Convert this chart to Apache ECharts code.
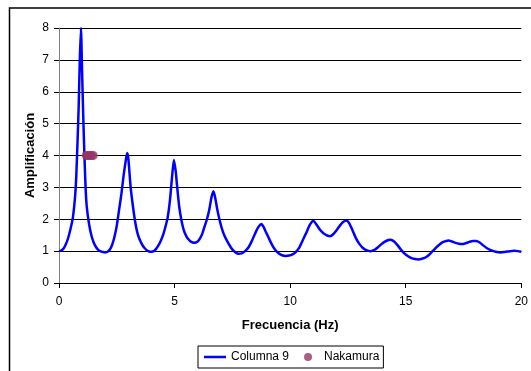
<!DOCTYPE html>
<html>
<head>
<meta charset="utf-8">
<script src="https://cdn.jsdelivr.net/npm/echarts@6/dist/echarts.min.js"></script>
<style>
  html, body { margin: 0; padding: 0; background: #fff; }
  #chart { width: 531px; height: 371px; }
</style>
</head>
<body>
<div id="chart"></div>
<script>
// Spectral ratio curve (frequency in Hz, amplification)
const freqs = [
  0.0, 0.1, 0.2, 0.3, 0.4, 0.5, 0.6, 0.7, 0.75, 0.8, 0.85, 0.9, 0.95, 1.0, 1.05,
  1.1, 1.15, 1.2, 1.3, 1.4, 1.5, 1.6, 1.7, 1.8, 1.9, 2.0, 2.1, 2.2, 2.3, 2.4,
  2.5, 2.6, 2.7, 2.8, 2.9, 2.95, 3.0, 3.1, 3.2, 3.3, 3.4, 3.5, 3.6, 3.7, 3.8,
  3.9, 4.0, 4.1, 4.2, 4.3, 4.4, 4.5, 4.6, 4.7, 4.8, 4.9, 4.97, 5.05, 5.1, 5.2,
  5.3, 5.4, 5.5, 5.6, 5.7, 5.85, 6.0, 6.1, 6.2, 6.3, 6.4, 6.5, 6.6, 6.68, 6.75,
  6.85, 6.95, 7.05, 7.15, 7.3, 7.45, 7.6, 7.75, 7.9, 8.05, 8.2, 8.35, 8.45, 8.55, 8.65,
  8.75, 8.85, 8.95, 9.05, 9.2, 9.35, 9.5, 9.65, 9.8, 9.95, 10.1, 10.25, 10.4, 10.55, 10.7,
  10.85, 11.0, 11.15, 11.3, 11.45, 11.6, 11.72, 11.85, 12.0, 12.15, 12.3, 12.43, 12.55, 12.7, 12.85,
  13.0, 13.15, 13.3, 13.48, 13.65, 13.8, 13.95, 14.1, 14.25, 14.35, 14.5, 14.65, 14.8, 14.95, 15.1,
  15.25, 15.4, 15.56, 15.7, 15.85, 16.0, 16.15, 16.3, 16.45, 16.6, 16.75, 16.85, 17.0, 17.15, 17.3,
  17.43, 17.6, 17.75, 17.9, 18.05, 18.2, 18.35, 18.5, 18.65, 18.8, 18.95, 19.1, 19.25, 19.4, 19.55,
  19.7, 19.85, 20.0
];
const amps = [
  1.00, 1.02, 1.08, 1.22, 1.42, 1.70, 2.05, 2.75, 3.40, 4.40, 5.50, 7.00, 8.00, 6.60, 5.20,
  4.00, 3.00, 2.40, 1.85, 1.50, 1.27, 1.13, 1.04, 0.99, 0.97, 0.96, 0.98, 1.05, 1.20, 1.45,
  1.80, 2.30, 2.80, 3.40, 3.90, 4.08, 3.90, 3.00, 2.40, 1.90, 1.55, 1.35, 1.20, 1.10, 1.03,
  0.99, 0.98, 1.00, 1.07, 1.18, 1.32, 1.50, 1.75, 2.05, 2.60, 3.40, 3.86, 3.50, 3.10, 2.40,
  1.95, 1.65, 1.48, 1.37, 1.30, 1.26, 1.30, 1.40, 1.55, 1.78, 2.00, 2.30, 2.70, 2.88, 2.70,
  2.30, 1.97, 1.70, 1.50, 1.28, 1.10, 0.98, 0.92, 0.93, 1.00, 1.12, 1.33, 1.50, 1.66, 1.78,
  1.85, 1.76, 1.60, 1.45, 1.22, 1.04, 0.93, 0.87, 0.85, 0.86, 0.90, 0.98, 1.12, 1.35, 1.58,
  1.82, 1.95, 1.82, 1.66, 1.55, 1.49, 1.47, 1.52, 1.65, 1.80, 1.92, 1.96, 1.88, 1.65, 1.40,
  1.22, 1.10, 1.03, 1.00, 1.04, 1.12, 1.22, 1.30, 1.35, 1.36, 1.30, 1.18, 1.04, 0.92, 0.84,
  0.78, 0.75, 0.74, 0.76, 0.80, 0.88, 0.99, 1.10, 1.20, 1.28, 1.32, 1.33, 1.30, 1.26, 1.23,
  1.22, 1.25, 1.29, 1.32, 1.32, 1.27, 1.18, 1.10, 1.04, 1.00, 0.97, 0.96, 0.97, 0.99, 1.00,
  1.01, 1.00, 0.98
];

// Nakamura estimates of the fundamental frequency
const nakamuraFreqs = [1.18, 1.25, 1.33, 1.40, 1.48];
const nakamuraAmps = [4, 4, 4, 4, 4];

const xTicks = { min: 0, max: 20, interval: 5 };
const yTicks = { min: 0, max: 8, interval: 1 };

const FONT = '"Liberation Sans", Arial, sans-serif';

const chart = echarts.init(document.getElementById('chart'), null, { renderer: 'canvas' });

chart.setOption({
  animation: false,
  backgroundColor: '#fff',
  textStyle: { fontFamily: FONT },
  grid: { left: 59, right: 8, top: 28, bottom: 88 },
  xAxis: {
    type: 'value',
    min: xTicks.min, max: xTicks.max, interval: xTicks.interval,
    name: 'Frecuencia (Hz)',
    nameLocation: 'middle',
    nameGap: 36,
    nameMoveOverlap: false,
    nameTextStyle: { fontFamily: FONT, fontSize: 13, fontWeight: 'bold', color: '#000' },
    axisLine: { show: true, onZero: false, lineStyle: { color: '#000', width: 1 } },
    axisTick: { show: true, inside: false, length: 5, lineStyle: { color: '#000' } },
    axisLabel: { fontFamily: FONT, fontSize: 12, color: '#000', margin: 13 },
    splitLine: { show: false }
  },
  yAxis: {
    type: 'value',
    min: yTicks.min, max: yTicks.max, interval: yTicks.interval,
    name: 'Amplificación',
    nameLocation: 'middle',
    nameGap: 22,
    nameMoveOverlap: false,
    nameRotate: 90,
    nameTextStyle: { fontFamily: FONT, fontSize: 13, fontWeight: 'bold', color: '#000' },
    axisLine: { show: true, lineStyle: { color: '#808080', width: 1 } },
    axisTick: { show: true, inside: false, length: 5, lineStyle: { color: '#000' } },
    axisLabel: { fontFamily: FONT, fontSize: 12, color: '#000', margin: 10 },
    splitLine: { show: true, lineStyle: { color: '#000', width: 1 } }
  },
  legend: {
    left: 198, top: 346,
    padding: [5, 4, 5, 6],
    itemGap: 15,
    itemWidth: 22, itemHeight: 8,
    borderColor: '#000', borderWidth: 1,
    textStyle: { fontFamily: FONT, fontSize: 12, color: '#000' },
    data: [
      { name: 'Columna 9', icon: 'path://M0,0H22V2.5H0Z' },
      { name: 'Nakamura', icon: 'circle' }
    ]
  },
  graphic: [
    {
      type: 'rect',
      silent: true,
      shape: { x: 9.5, y: 8, width: 600, height: 500 },
      style: { fill: 'none', stroke: '#000', lineWidth: 1.5 },
      z: -1
    }
  ],
  series: [
    {
      name: 'Columna 9',
      type: 'line',
      symbol: 'none',
      smooth: 0.2,
      lineStyle: { color: '#0000FF', width: 2.5 },
      itemStyle: { color: '#0000FF' },
      data: freqs.map((f, i) => [f, amps[i]]),
      z: 2
    },
    {
      name: 'Nakamura',
      type: 'scatter',
      symbol: 'circle',
      symbolSize: 9,
      itemStyle: { color: '#993366' },
      data: nakamuraFreqs.map((f, i) => [f, nakamuraAmps[i]]),
      z: 3
    }
  ]
});
</script>
</body>
</html>
